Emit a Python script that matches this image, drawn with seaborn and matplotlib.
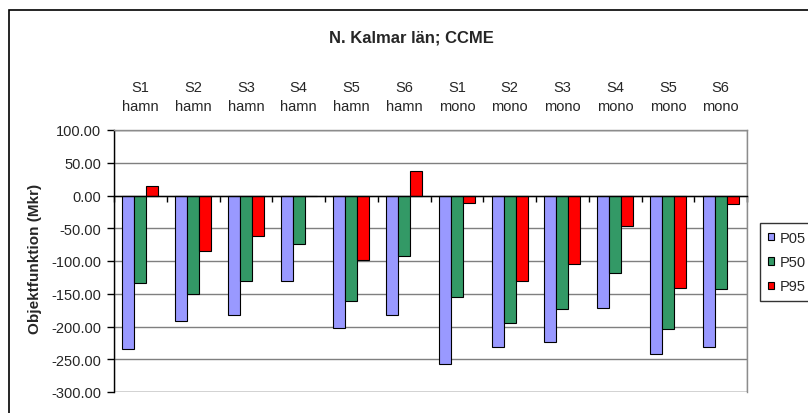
import numpy as np
import pandas as pd
import matplotlib
matplotlib.use("Agg")
import matplotlib.pyplot as plt
from matplotlib.patches import Rectangle
from matplotlib.ticker import FormatStrFormatter, MultipleLocator
import seaborn as sns

# ---- data ----
scenarios = ["S1\nhamn", "S2\nhamn", "S3\nhamn", "S4\nhamn", "S5\nhamn", "S6\nhamn",
             "S1\nmono", "S2\nmono", "S3\nmono", "S4\nmono", "S5\nmono", "S6\nmono"]
p05 = [-235, -192, -183, -130, -203, -183, -257, -232, -223, -172, -242, -232]
p50 = [-134, -150, -130, -74, -161, -92, -155, -194, -174, -118, -204, -143]
p95 = [15, -85, -62, 0, -98, 38, -11, -130, -105, -47, -141, -13]
series_names = ["P05", "P50", "P95"]
colors = ["#9999FF", "#339966", "#FF0000"]

df = pd.DataFrame({
    "scenario": scenarios * 3,
    "value": p05 + p50 + p95,
    "percentile": [s for s in series_names for _ in scenarios],
})

sns.set_style("white")
plt.rcParams["font.family"] = ["Liberation Sans", "DejaVu Sans"]
plt.rcParams["font.size"] = 10.5
FS = 10.5

W, H = 808, 414
fig = plt.figure(figsize=(W / 100, H / 100), dpi=100)
ax = fig.add_axes([114 / W, 1 - 393 / H, (747 - 114) / W, (393 - 131) / H])

sns.barplot(data=df, x="scenario", y="value", hue="percentile", order=scenarios,
            hue_order=series_names, palette=colors, width=0.68,
            edgecolor="black", linewidth=0.8, ax=ax, errorbar=None, saturation=1)

ax.set_xlim(-0.5, len(scenarios) - 0.5)
ax.set_ylim(-300, 100)
ax.yaxis.set_major_locator(MultipleLocator(50))
ax.yaxis.set_major_formatter(FormatStrFormatter("%.2f"))
ax.set_xlabel("")
ax.set_ylabel("")

# grid
ax.set_axisbelow(True)
ax.grid(axis="y", color="#7f7f7f", linewidth=1)
ax.grid(axis="x", visible=False)

# spines
for s in ["top", "right"]:
    ax.spines[s].set_color("#8c8c8c")
    ax.spines[s].set_linewidth(1)
ax.spines["left"].set_color("black")
ax.spines["left"].set_linewidth(1)
ax.spines["bottom"].set_position(("data", 0))
ax.spines["bottom"].set_color("black")
ax.spines["bottom"].set_linewidth(1)
ax.add_patch(Rectangle((0, 0), 1, 1, transform=ax.transAxes, fill=False,
                       edgecolor="#8c8c8c", linewidth=1, zorder=0.5))

# x ticks: labels on top, minor tick marks at the zero line
ax.set_xticks(np.arange(-0.5, len(scenarios), 1), minor=True)
ax.tick_params(axis="x", which="major", bottom=False, top=False,
               labelbottom=False, labeltop=True, pad=9, labelsize=FS)
ax.tick_params(axis="x", which="minor", bottom=True, top=False, length=4,
               width=1, color="black", direction="out")
for lbl in ax.get_xticklabels():
    lbl.set_linespacing(1.4)

ax.tick_params(axis="y", which="major", left=True, length=5, width=1,
               color="black", direction="out", pad=4, labelsize=FS)

# y label
fig.text(35 / W, 1 - 259 / H, "Objektfunktion (Mkr)", rotation=90,
         ha="center", va="center", fontweight="bold", fontsize=11)

# title
fig.text(411 / W, 1 - 38 / H, "N. Kalmar län; CCME", ha="center", va="center",
         fontweight="bold", fontsize=12)

# legend
handles, labels = ax.get_legend_handles_labels()
ax.get_legend().remove()
leg = fig.legend(handles, labels, loc="upper left",
                 bbox_to_anchor=(760 / W, 1 - 224 / H), bbox_transform=fig.transFigure,
                 borderaxespad=0, frameon=True, fancybox=False, shadow=False,
                 handlelength=0.4, handleheight=0.4, handletextpad=0.4,
                 borderpad=0.55, labelspacing=0.7, fontsize=FS)
leg.get_frame().set_edgecolor("black")
leg.get_frame().set_linewidth(1)

# outer border
fig.patches.append(Rectangle((9 / W, -0.1), 2, (1 - 11 / H) + 0.1,
                             transform=fig.transFigure, fill=False,
                             edgecolor="black", linewidth=1.2))

fig.savefig("out.png", dpi=100)
